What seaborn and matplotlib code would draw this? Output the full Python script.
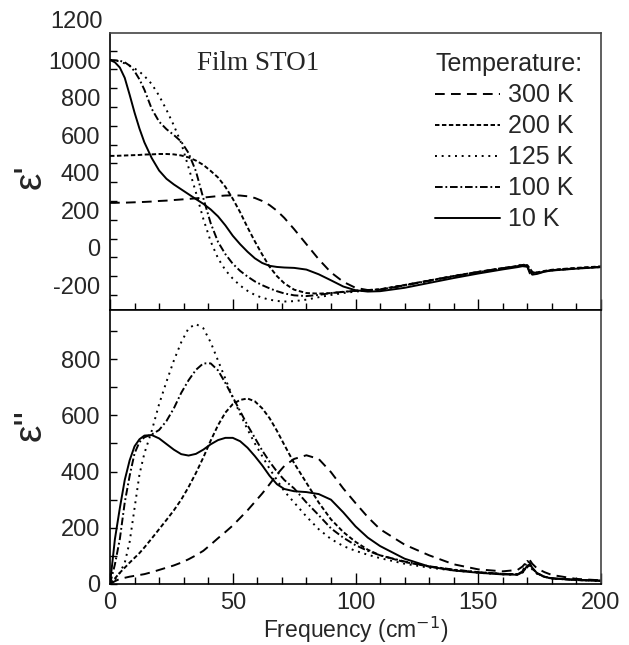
import matplotlib
matplotlib.use('Agg')
import matplotlib.pyplot as plt
import matplotlib.transforms as mtransforms
from matplotlib.ticker import MultipleLocator, FixedLocator
import pandas as pd
import seaborn as sns

# frequency grid (cm^-1) shared by all curves
freq = [0, 2, 4, 6, 8, 10, 12, 14, 17, 20, 23, 26, 29, 32, 35, 38, 41, 44, 47, 50,
        53, 56, 59, 62, 65, 68, 71, 75, 80, 85, 90, 95, 100, 105, 110, 120, 130, 140, 150, 160,
        166, 168, 170, 171, 172, 174, 177, 180, 190, 200]

# real part eps'
eps1_300 = [240, 240, 241, 241, 242, 243, 244, 245, 247, 250, 252, 255, 258, 261, 264, 268, 272, 276, 279, 280,
            279, 275, 266, 250, 228, 198, 160, 100, 20, -60, -130, -180, -212, -224, -222, -199, -174, -150, -128, -108,
            -97, -92, -93, -110, -130, -132, -124, -118, -108, -100]
eps1_200 = [490, 490, 491, 492, 493, 494, 495, 497, 498, 500, 500, 498, 492, 482, 465, 442, 410, 375, 325, 262,
            190, 110, 35, -35, -100, -150, -188, -222, -240, -243, -240, -234, -228, -224, -220, -197, -173, -149, -127, -107,
            -96, -91, -92, -108, -128, -130, -122, -116, -106, -98]
eps1_125 = [1000, 998, 992, 982, 970, 955, 938, 915, 872, 810, 735, 652, 558, 428, 295, 155, 35, -55, -118, -163,
            -200, -228, -250, -265, -275, -282, -285, -283, -275, -262, -250, -240, -232, -226, -222, -199, -175, -151, -129, -109,
            -98, -93, -95, -112, -131, -133, -125, -119, -109, -101]
eps1_100 = [1000, 999, 996, 988, 970, 940, 897, 842, 740, 672, 632, 601, 566, 505, 408, 265, 132, 32, -33, -84,
            -122, -152, -178, -198, -215, -230, -242, -252, -256, -250, -240, -233, -228, -224, -221, -198, -174, -150, -128, -108,
            -97, -85, -100, -135, -140, -134, -125, -119, -109, -101]
eps1_10 = [1000, 988, 960, 905, 815, 720, 635, 562, 478, 412, 368, 338, 312, 286, 260, 235, 205, 168, 120, 65,
           20, -20, -55, -80, -95, -101, -104, -106, -115, -140, -172, -205, -225, -232, -230, -212, -186, -160, -136, -114,
           -102, -97, -100, -125, -142, -138, -126, -120, -110, -102]

# imaginary part eps''
eps2_300 = [0, 10, 18, 22, 26, 29, 32, 35, 42, 50, 58, 66, 76, 88, 102, 118, 140, 163, 185, 208,
            235, 262, 292, 322, 355, 390, 420, 445, 458, 445, 398, 340, 288, 238, 195, 140, 102, 70, 52, 45,
            50, 62, 82, 85, 72, 55, 42, 32, 18, 13]
eps2_200 = [0, 20, 40, 58, 76, 93, 110, 130, 162, 195, 228, 262, 300, 345, 395, 450, 510, 565, 610, 640,
            655, 660, 650, 625, 590, 545, 495, 430, 360, 290, 230, 185, 150, 122, 102, 78, 62, 50, 42, 36,
            35, 42, 62, 66, 55, 38, 26, 20, 14, 11]
eps2_125 = [0, 15, 40, 75, 150, 270, 390, 465, 545, 640, 720, 795, 860, 910, 925, 910, 860, 795, 730, 665,
            605, 550, 500, 455, 410, 370, 330, 290, 240, 195, 160, 135, 118, 104, 92, 72, 58, 48, 40, 34,
            33, 40, 60, 64, 52, 36, 25, 19, 14, 11]
eps2_100 = [0, 70, 160, 290, 385, 465, 505, 522, 532, 548, 580, 625, 680, 725, 762, 785, 785, 760, 715, 665,
            615, 565, 520, 475, 435, 400, 370, 340, 290, 245, 198, 165, 138, 118, 102, 80, 63, 51, 42, 36,
            34, 45, 82, 75, 55, 38, 26, 20, 14, 11]
eps2_10 = [0, 160, 270, 370, 440, 490, 515, 528, 530, 518, 498, 478, 462, 457, 463, 478, 497, 512, 520, 520,
           508, 485, 455, 422, 385, 355, 338, 330, 327, 320, 300, 255, 205, 165, 135, 90, 62, 48, 40, 34,
           33, 42, 65, 70, 58, 38, 25, 20, 15, 12]

temps = ['300 K', '200 K', '125 K', '100 K', '10 K']

sns.set_theme(style='ticks')
plt.rcParams['font.family'] = ['Liberation Sans', 'DejaVu Sans']
plt.rcParams['lines.scale_dashes'] = False
plt.rcParams['axes.unicode_minus'] = False

# long-form tables for seaborn
df1 = pd.DataFrame({'freq': freq, '300 K': eps1_300, '200 K': eps1_200, '125 K': eps1_125,
                    '100 K': eps1_100, '10 K': eps1_10}).melt('freq', var_name='temp', value_name='eps')
df2 = pd.DataFrame({'freq': freq, '300 K': eps2_300, '200 K': eps2_200, '125 K': eps2_125,
                    '100 K': eps2_100, '10 K': eps2_10}).melt('freq', var_name='temp', value_name='eps')

dash_map = {'300 K': (7, 4.5), '200 K': (3.2, 1.8), '125 K': (1.4, 3.4),
            '100 K': (5.5, 2, 1.3, 2), '10 K': ''}
pal = {t: 'black' for t in temps}

fig = plt.figure(figsize=(6.29, 6.45), dpi=100)
ax1 = fig.add_axes([0.1749, 0.5194, 0.7806, 0.4295])
ax2 = fig.add_axes([0.1749, 0.0946, 0.7806, 0.4248])

for ax, df in [(ax1, df1), (ax2, df2)]:
    sns.lineplot(data=df, x='freq', y='eps', hue='temp', style='temp', hue_order=temps,
                 style_order=temps, palette=pal, dashes=dash_map, linewidth=1.4,
                 sort=False, errorbar=None, legend=False, ax=ax)
    ax.set_xlim(0, 200)
    ax.xaxis.set_major_locator(MultipleLocator(50))
    ax.xaxis.set_minor_locator(MultipleLocator(10))
    ax.tick_params(axis='x', which='major', direction='in', length=8, width=1, color='black',
                   labelsize=17, pad=6, top=False)
    ax.tick_params(axis='x', which='minor', direction='in', length=5, width=1, color='black', top=False)
    ax.tick_params(axis='y', which='both', direction='in', width=1, color='black',
                   labelsize=17, pad=7, right=False)
    for s in ax.spines.values():
        s.set_linewidth(1.2)
        s.set_color('black')
    ax.set_xlabel('')

# top panel: eps'
ax1.set_ylim(-330, 1144)
ax1.yaxis.set_major_locator(FixedLocator([-200, 0, 200, 400, 600, 800, 1000]))
ax1.yaxis.set_minor_locator(FixedLocator(list(range(-250, 1100, 100))))
ax1.tick_params(axis='y', which='major', length=0)
ax1.tick_params(axis='y', which='minor', length=5)
ax1.tick_params(axis='x', labelbottom=False)
ax1.spines['top'].set_color('#444444')
ax1.spines['right'].set_color('#444444')
trans = mtransforms.blended_transform_factory(ax1.transAxes, ax1.transData)
ax1.text(-0.0143, 1200, '1200', transform=trans, ha='right', va='center', fontsize=17, clip_on=False)
ax1.set_ylabel("ε'", fontsize=28)
ax1.yaxis.set_label_coords(-0.125, 0.48)
ax1.text(0.177, 0.89, 'Film STO1', transform=ax1.transAxes, fontsize=19.5,
         family='Liberation Serif', ha='left', va='center')

handles = ax1.get_lines()[:5]
leg = ax1.legend(handles, temps, title='Temperature:', loc='upper left',
                 bbox_to_anchor=(0.662, 0.93), frameon=False, fontsize=18, title_fontsize=18,
                 handlelength=2.6, handletextpad=0.33, labelspacing=0.28, borderpad=0,
                 borderaxespad=0, alignment='left')

# bottom panel: eps''
ax2.set_ylim(0, 975)
ax2.yaxis.set_major_locator(FixedLocator([0, 200, 400, 600, 800]))
ax2.yaxis.set_minor_locator(FixedLocator([100, 300, 500, 700, 900]))
ax2.tick_params(axis='y', which='both', length=5)
ax2.spines['right'].set_color('#444444')
ax2.set_ylabel("ε''", fontsize=28)
ax2.yaxis.set_label_coords(-0.125, 0.58)
ax2.set_xlabel('Frequency (cm$^{-1}$)', fontsize=16.5, labelpad=0)

fig.savefig('out.png', dpi=100)
